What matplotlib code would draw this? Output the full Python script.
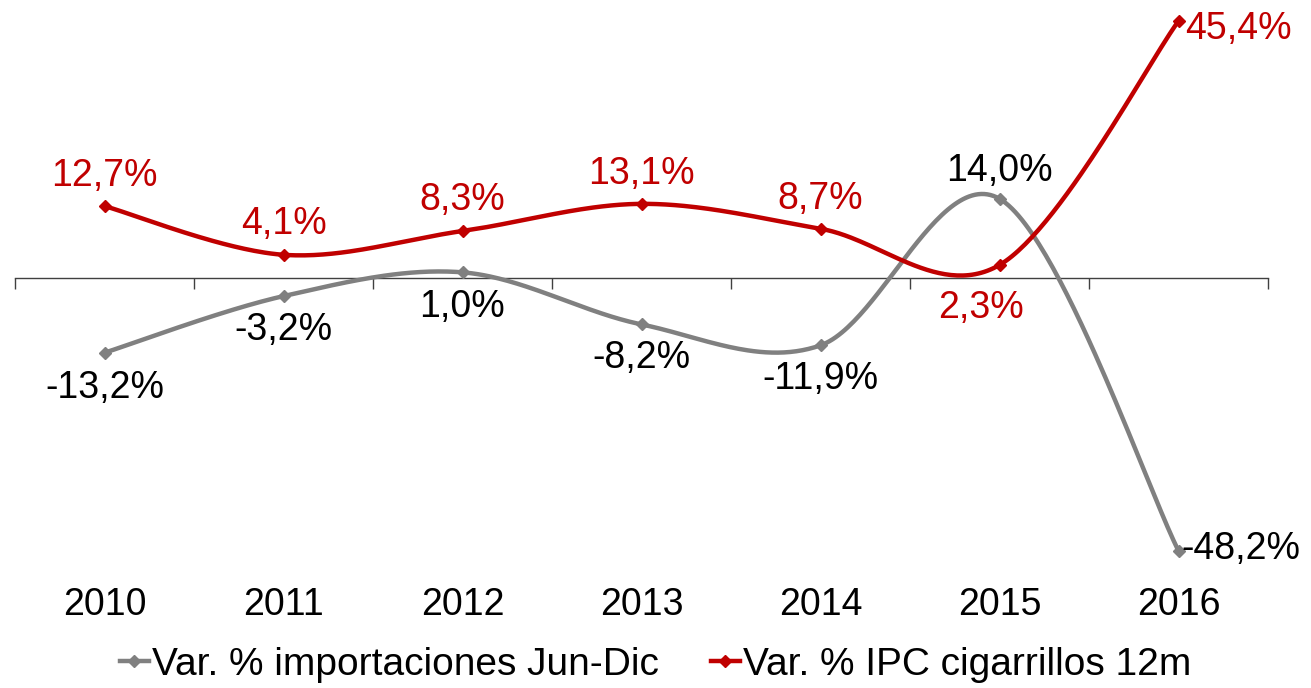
import numpy as np
import matplotlib
matplotlib.use("Agg")
import matplotlib.pyplot as plt
from matplotlib.lines import Line2D

plt.rcParams['font.family'] = ['Liberation Sans', 'DejaVu Sans']

years = ['2010', '2011', '2012', '2013', '2014', '2015', '2016']
importaciones = [-13.2, -3.2, 1.0, -8.2, -11.9, 14.0, -48.2]
ipc_cigarrillos = [12.7, 4.1, 8.3, 13.1, 8.7, 2.3, 45.4]
series_names = ['Var. % importaciones Jun-Dic', 'Var. % IPC cigarrillos 12m']

GRAY = '#808080'
RED = '#C00000'
FS = 27
LW = 3.2


def smooth(xs, ys, n=60):
    """Excel-like smoothed line: cubic Bezier with Catmull-Rom control points."""
    xs = np.asarray(xs, float)
    ys = np.asarray(ys, float)
    P = np.column_stack([xs, ys])
    m = len(P)
    out = []
    t = np.linspace(0, 1, n)
    for i in range(m - 1):
        p0 = P[i - 1] if i > 0 else P[i]
        p1 = P[i]
        p2 = P[i + 1]
        p3 = P[i + 2] if i + 2 < m else P[i + 1]
        c1 = p1 + (p2 - p0) / 6.0
        c2 = p2 - (p3 - p1) / 6.0
        seg = ((1 - t)[:, None] ** 3 * p1 + 3 * ((1 - t) ** 2 * t)[:, None] * c1
               + 3 * ((1 - t) * t ** 2)[:, None] * c2 + (t ** 3)[:, None] * p2)
        out.append(seg if i == 0 else seg[1:])
    s = np.vstack(out)
    return s[:, 0], s[:, 1]


W, H = 1311, 688
fig = plt.figure(figsize=(W / 100, H / 100), dpi=100)
ax_left = 15 / W
ax_w = 1253 / W
ax_bottom = 88 / H
ax_h = 600 / H
ax = fig.add_axes([ax_left, ax_bottom, ax_w, ax_h])

pxper = 5.66
ytop = 278 / pxper
ybot = -(600 - 278) / pxper
ax.set_ylim(ybot, ytop)
ax.set_xlim(-0.5, len(years) - 0.5)

x = np.arange(len(years))

for vals, col in [(importaciones, GRAY), (ipc_cigarrillos, RED)]:
    sx, sy = smooth(x, vals)
    ax.plot(sx, sy, color=col, lw=LW, solid_capstyle='round', zorder=3)
    ax.plot(x, vals, ls='none', marker='D', ms=6.5, color=col, zorder=4)

# axis at zero with tick marks between categories
for s in ['left', 'right', 'top']:
    ax.spines[s].set_visible(False)
ax.spines['bottom'].set_position(('data', 0))
ax.spines['bottom'].set_color('#404040')
ax.spines['bottom'].set_linewidth(1.0)
ax.set_yticks([])
ax.set_xticks(np.arange(-0.5, len(years), 1.0))
ax.set_xticklabels([])
ax.tick_params(axis='x', direction='out', length=8, width=1.0, color='#404040')

# category labels at bottom
trans = matplotlib.transforms.blended_transform_factory(ax.transData, ax.transAxes)
for i, yl in enumerate(years):
    ax.text(i, (600 - 605) / 600, yl, transform=trans, ha='center', va='center',
            fontsize=FS, color='black')

# data labels (offsets in pixels)
gray_off = [(0, -35), (0, -34), (0, -35), (0, -34), (0, -34), (0, 28), (62, 2)]
red_off = [(0, 30), (0, 31), (0, 31), (0, 30), (0, 30), (-18, -43), (60, -8)]
for i, v in enumerate(importaciones):
    dx, dy = gray_off[i]
    ax.annotate(f"{v:.1f}%".replace('.', ','), (i, v), xytext=(dx, dy),
                textcoords='offset pixels', ha='center', va='center',
                fontsize=FS, color='black', zorder=5)
for i, v in enumerate(ipc_cigarrillos):
    dx, dy = red_off[i]
    ax.annotate(f"{v:.1f}%".replace('.', ','), (i, v), xytext=(dx, dy),
                textcoords='offset pixels', ha='center', va='center',
                fontsize=FS, color=RED, zorder=5)

handles = [Line2D([0], [0], color=GRAY, lw=LW, marker='D', ms=6.5),
           Line2D([0], [0], color=RED, lw=LW, marker='D', ms=6.5)]
fig.legend(handles, series_names, loc='center', bbox_to_anchor=(0.5, 23 / H),
           ncol=2, frameon=False, fontsize=28, handlelength=0.75,
           handletextpad=0.08, columnspacing=1.34, borderaxespad=0, borderpad=0)

fig.savefig('out.png', dpi=100)
